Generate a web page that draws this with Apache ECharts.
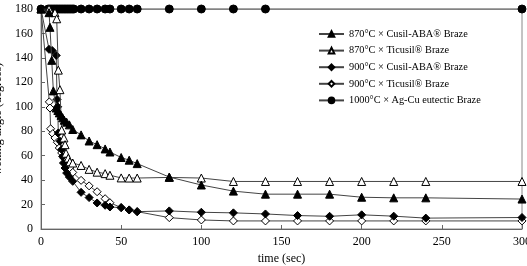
<!DOCTYPE html>
<html><head><meta charset="utf-8">
<script src="https://cdn.jsdelivr.net/npm/echarts@6/dist/echarts.min.js"></script>
<style>html,body{margin:0;padding:0;background:#fff}#c{width:527px;height:266px}</style>
</head><body><div id="c"></div>
<script>
const seriesNames = ['870°C × Cusil-ABA® Braze','870°C × Ticusil® Braze','900°C × Cusil-ABA® Braze','900°C × Ticusil® Braze','1000°C × Ag-Cu eutectic Braze'];
const xTicks = [0,50,100,150,200,250,300];
const yTicks = [0,20,40,60,80,100,120,140,160,180];

const t870c = [0,5,5.6,6.7,7.7,9.4,10.5,11.4,12.5,13.5,14.5,16,17.7,19.8,25,30,35,40,43,50,55,60,80,100,120,140,160,180,200,220,240,300];
const v870c = [180,177,165,138,113,99,97,95,93,91,89,87.4,85.2,81.4,77,72,69,65.5,63,58.5,56.3,53.5,42.5,36,31,28.5,28.5,28.5,26,25.5,25.5,24.5];

const t870t = [0,5,8.7,9.8,10.8,11.8,12.9,14.3,15,15.6,17,18,19.8,25,30,35,40,43,50,55,60,80,100,120,140,160,180,200,220,240,300];
const v870t = [180,180,177,172,130,114,81,74.5,69,62,58,55,54,52,48.8,46.5,45.3,44,41.8,41.7,41.7,42.2,41.7,38.9,38.9,38.9,38.9,38.9,38.9,38.9,38.9];

const t900c = [0,5,7,9.5,10,10.4,10.8,11.9,12.9,13.5,14,15,16,17.7,19.8,25,30,35,40,43,50,55,60,80,100,120,140,160,180,200,220,240,300];
const v900c = [180,147,146,142,106,100,78.6,71.8,65,59.4,54,49.9,45.8,42.5,39,30,25.7,21.3,19.4,18,17.5,15.6,14.2,14.8,13.7,13.2,12.3,11,10.4,11.6,10.5,8.9,9.4];

const t900t = [0,5.2,5.6,6,7.3,8.7,10.2,11.4,12.9,14.3,16,18,19.8,25,30,35,40,43,50,55,60,80,100,120,140,160,180,200,220,240,300];
const v900t = [180,104,99,82,78,74.5,71,66.3,62.2,58,54,50,46.3,39.8,35.3,30.5,24.8,21.5,17.5,15.6,14.2,9.3,7.4,6.6,6.6,6.6,6.6,6.6,6.6,6.6,6.6];

const t1000 = [0,4.5,5.5,6.5,7.5,8.5,9.5,10.5,11.5,12.5,13.5,14.5,15.5,16.5,17.5,18.5,19.5,20.5,25,30,35,40,43,50,55,60,80,100,120,140,300];
const v1000 = [180,180,180,180,180,180,180,180,180,180,180,180,180,180,180,180,180,180,180,180,180,180,180,180,180,180,180,180,180,180,180];

const font = "'Liberation Serif','Times New Roman',serif";
function pairs(t,v){return t.map((x,i)=>[x,v[i]]);}
const styles = [
  {symbol:'triangle', size:8, fill:'#000'},
  {symbol:'triangle', size:8, fill:'#fff'},
  {symbol:'diamond', size:8, fill:'#000'},
  {symbol:'diamond', size:8, fill:'#fff'},
  {symbol:'circle', size:8, fill:'#000'}
];
const data = [pairs(t870c,v870c),pairs(t870t,v870t),pairs(t900c,v900c),pairs(t900t,v900t),pairs(t1000,v1000)];
const chart = echarts.init(document.getElementById('c'));
chart.setOption({
  animation:false,
  backgroundColor:'#fff',
  grid:{left:41,right:5,top:9,bottom:37,containLabel:false,outerBoundsMode:'none',show:true,borderColor:'#888',borderWidth:1,backgroundColor:'transparent'},
  legend:{orient:'vertical',left:318,top:29,itemWidth:25,itemHeight:7,itemGap:6.6,padding:0,
    textStyle:{fontFamily:font,fontSize:10.3,color:'#000'},
    data:seriesNames},
  xAxis:{type:'value',min:0,max:300,interval:50,name:'time (sec)',nameLocation:'middle',nameGap:24,
    nameTextStyle:{fontFamily:font,fontSize:12,color:'#000'},
    axisLine:{lineStyle:{color:'#666'}},axisTick:{inside:true,length:4,lineStyle:{color:'#666'}},
    splitLine:{show:false},axisLabel:{fontFamily:font,fontSize:12,color:'#000',margin:7}},
  yAxis:{type:'value',min:0,max:180,interval:20,name:'wetting angle (degrees)',nameLocation:'middle',nameGap:30,nameRotate:90,
    nameTextStyle:{fontFamily:font,fontSize:12,color:'#000'},
    axisLine:{show:true,lineStyle:{color:'#666'}},axisTick:{show:true,inside:true,length:4,lineStyle:{color:'#666'}},
    splitLine:{show:false},axisLabel:{fontFamily:font,fontSize:12,color:'#000',margin:8}},
  series:seriesNames.map((n,i)=>({
    name:n,type:'line',data:data[i],symbol:styles[i].symbol,symbolSize:styles[i].size,showAllSymbol:true,
    lineStyle:{color:'#444',width:1},
    itemStyle:{color:styles[i].fill,borderColor:'#000',borderWidth:1},
    z:10-i
  }))
});
</script></body></html>
